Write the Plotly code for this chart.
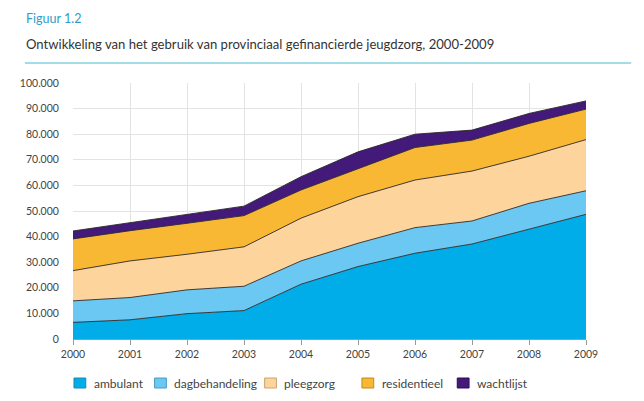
import plotly.graph_objects as go

# jaren en aantallen (gestapeld)
years = [2000, 2001, 2002, 2003, 2004, 2005, 2006, 2007, 2008, 2009]
ambulant = [6500, 7500, 9900, 11100, 21400, 28300, 33500, 37100, 42900, 48700]
dagbehandeling = [8400, 8700, 9300, 9500, 9100, 9100, 10000, 9000, 10100, 9200]
pleegzorg = [11800, 14300, 13900, 15400, 16700, 18200, 18600, 19500, 18400, 20000]
residentieel = [12400, 11800, 12100, 12200, 11000, 11000, 12700, 12100, 12800, 11900]
wachtlijst = [3100, 3100, 3500, 3700, 5200, 6500, 5200, 3900, 3900, 3200]

series = [
    ("ambulant", ambulant, "#00ade9", "#1689b8"),
    ("dagbehandeling", dagbehandeling, "#6ac8f2", "#4a9cc4"),
    ("pleegzorg", pleegzorg, "#fcd49c", "#c9a46e"),
    ("residentieel", residentieel, "#f9b834", "#c28a1a"),
    ("wachtlijst", wachtlijst, "#43197a", "#2c0f55"),
]

# de pagina heeft 8px body-marge, dus de figuur is 8px kleiner
OFF = 8
W, H = 644 - OFF, 401 - OFF
ML, MR, MT, MB = 56, 58, 75, 62
PW, PH = W - ML - MR, H - MT - MB


def px(x):
    # x in paginapixels -> paper
    return (x - OFF - ML) / PW


def py(y):
    return (H - MB - (y - OFF)) / PH


fig = go.Figure()
for name, vals, col, _ in series:
    fig.add_trace(go.Scatter(
        x=years, y=vals, name=name, stackgroup="one", mode="lines",
        line=dict(color="rgba(45,40,40,0.9)", width=1),
        fillcolor=col, showlegend=False,
    ))

shapes = [
    # scheidingslijn onder de titel
    dict(type="line", xref="paper", yref="paper", x0=px(15), x1=px(632), y0=py(63), y1=py(63),
         line=dict(color="#a3dbe6", width=2)),
]

annotations = [
    dict(text="Figuur 1.2", xref="paper", yref="paper", x=px(14), y=py(18),
         xanchor="left", yanchor="middle", showarrow=False,
         font=dict(size=12.5, color="#2f9ccc")),
    dict(text="Ontwikkeling van het gebruik van provinciaal gefinancierde jeugdzorg, 2000-2009",
         xref="paper", yref="paper", x=px(14), y=py(44),
         xanchor="left", yanchor="middle", showarrow=False,
         font=dict(size=13.1, color="#333")),
]

# legenda met vierkantjes
legend_x = [65, 147, 259, 358, 455]
for (name, _, col, edge), lx in zip(series, legend_x):
    shapes.append(dict(type="rect", xref="paper", yref="paper",
                       x0=px(lx), x1=px(lx + 12), y0=py(388), y1=py(378),
                       fillcolor=col, line=dict(color=edge, width=1)))
    annotations.append(dict(text=name, xref="paper", yref="paper",
                            x=px(lx + 18), y=py(383), xanchor="left", yanchor="middle",
                            showarrow=False, font=dict(size=12, color="#444")))

fig.update_layout(
    width=W, height=H,
    margin=dict(l=ML, r=MR, t=MT, b=MB),
    paper_bgcolor="white", plot_bgcolor="white",
    separators=",.",
    font=dict(family="Lato", size=11, color="#444"),
    shapes=shapes,
    annotations=annotations,
    showlegend=False,
)

fig.update_xaxes(
    range=[2000, 2009], tickmode="array", tickvals=years,
    showgrid=True, gridcolor="#e3e3e3", gridwidth=1,
    showline=True, linecolor="#9a9a9a", ticks="outside", ticklen=5, tickcolor="#9a9a9a",
    tickfont=dict(size=10.5, color="#444"), zeroline=False,
)
fig.update_yaxes(
    range=[0, 100000], dtick=10000, tickformat=",d",
    showgrid=True, gridcolor="#e3e3e3", gridwidth=1,
    ticks="outside", ticklen=11, tickcolor="rgba(0,0,0,0)", zeroline=False,
    tickfont=dict(size=10.5, color="#444"),
)

fig.write_html("out.html")
